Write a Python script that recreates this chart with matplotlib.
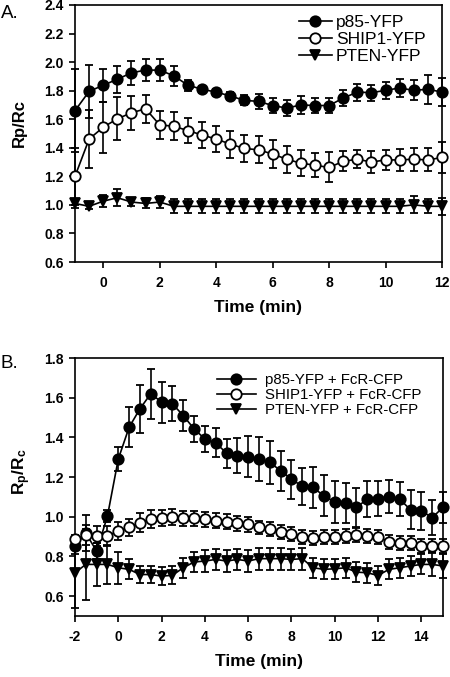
import matplotlib
matplotlib.use('Agg')
import matplotlib.pyplot as plt
from matplotlib.ticker import FormatStrFormatter

plt.rcParams['font.family'] = ['Liberation Sans', 'DejaVu Sans']
plt.rcParams['mathtext.fontset'] = 'custom'
plt.rcParams['mathtext.bf'] = 'Liberation Sans:bold'
plt.rcParams['mathtext.rm'] = 'Liberation Sans'
plt.rcParams['axes.unicode_minus'] = False

# ---------------- Panel A data ----------------
time_a = [-1, -0.5, 0, 0.5, 1, 1.5, 2, 2.5, 3, 3.5, 4, 4.5, 5, 5.5, 6, 6.5, 7,
          7.5, 8, 8.5, 9, 9.5, 10, 10.5, 11, 11.5, 12]
p85_a = [1.66, 1.795, 1.838, 1.88, 1.925, 1.944, 1.944, 1.904, 1.838, 1.81,
         1.79, 1.763, 1.732, 1.725, 1.696, 1.678, 1.70, 1.696, 1.696, 1.748,
         1.79, 1.786, 1.802, 1.819, 1.802, 1.81, 1.79]
p85_a_err = [0.29, 0.185, 0.115, 0.095, 0.083, 0.075, 0.075, 0.07, 0.04, 0.025,
             0.025, 0.03, 0.035, 0.05, 0.05, 0.055, 0.06, 0.05, 0.05, 0.055,
             0.06, 0.055, 0.06, 0.06, 0.07, 0.1, 0.1]
ship1_a = [1.20, 1.461, 1.544, 1.603, 1.645, 1.673, 1.56, 1.551, 1.52, 1.49,
           1.461, 1.426, 1.395, 1.386, 1.356, 1.32, 1.292, 1.278, 1.262, 1.305,
           1.32, 1.30, 1.315, 1.315, 1.32, 1.315, 1.332]
ship1_a_err = [0.2, 0.205, 0.18, 0.15, 0.12, 0.097, 0.1, 0.1, 0.09, 0.09,
               0.09, 0.095, 0.095, 0.095, 0.095, 0.095, 0.09, 0.085, 0.105, 0.07,
               0.065, 0.075, 0.07, 0.075, 0.08, 0.08, 0.11]
pten_a = [1.01, 0.99, 1.026, 1.05, 1.02, 1.01, 1.02, 0.99, 0.99, 0.99,
          0.99, 0.99, 0.99, 0.99, 0.99, 0.99, 0.99, 0.99, 0.99, 0.99,
          0.99, 0.99, 0.99, 0.99, 1.0, 0.99, 0.99]
pten_a_err = [0.03, 0.02, 0.04, 0.06, 0.03, 0.035, 0.04, 0.05, 0.05, 0.05,
              0.05, 0.05, 0.05, 0.05, 0.05, 0.05, 0.05, 0.05, 0.05, 0.05,
              0.05, 0.05, 0.05, 0.05, 0.06, 0.05, 0.06]
labels_a = ['p85-YFP', 'SHIP1-YFP', 'PTEN-YFP']

# ---------------- Panel B data ----------------
time_b = [-2, -1.5, -1, -0.5, 0, 0.5, 1, 1.5, 2, 2.5, 3, 3.5, 4, 4.5, 5, 5.5,
          6, 6.5, 7, 7.5, 8, 8.5, 9, 9.5, 10, 10.5, 11, 11.5, 12, 12.5, 13,
          13.5, 14, 14.5, 15]
p85_b = [0.853, 0.917, 0.827, 1.004, 1.291, 1.451, 1.544, 1.62, 1.578, 1.569,
         1.51, 1.443, 1.392, 1.372, 1.321, 1.308, 1.302, 1.291, 1.274, 1.232,
         1.19, 1.153, 1.148, 1.105, 1.075, 1.068, 1.047, 1.089, 1.092, 1.102,
         1.089, 1.035, 1.03, 0.996, 1.047]
p85_b_err = [0.04, 0.09, 0.04, 0.03, 0.06, 0.1, 0.12, 0.125, 0.103, 0.088,
             0.076, 0.067, 0.067, 0.073, 0.073, 0.088, 0.104, 0.113, 0.11, 0.1,
             0.098, 0.095, 0.105, 0.103, 0.104, 0.1, 0.1, 0.09, 0.09, 0.085,
             0.085, 0.098, 0.095, 0.09, 0.08]
ship1_b = [0.886, 0.907, 0.903, 0.903, 0.929, 0.946, 0.971, 0.988, 0.996, 1.0,
           0.992, 0.992, 0.988, 0.979, 0.974, 0.967, 0.962, 0.946, 0.937, 0.923,
           0.912, 0.9, 0.895, 0.9, 0.9, 0.903, 0.906, 0.903, 0.9, 0.873,
           0.866, 0.866, 0.853, 0.853, 0.853]
ship1_b_err = [0.02, 0.05, 0.05, 0.05, 0.045, 0.045, 0.047, 0.045, 0.04, 0.04,
               0.038, 0.038, 0.038, 0.038, 0.038, 0.038, 0.038, 0.035, 0.035, 0.035,
               0.035, 0.035, 0.035, 0.035, 0.035, 0.035, 0.035, 0.035, 0.035, 0.035,
               0.035, 0.035, 0.035, 0.035, 0.035]
pten_b = [0.718, 0.76, 0.76, 0.76, 0.743, 0.735, 0.709, 0.709, 0.701, 0.705,
          0.743, 0.772, 0.777, 0.785, 0.777, 0.785, 0.777, 0.789, 0.789, 0.789,
          0.785, 0.789, 0.743, 0.735, 0.738, 0.743, 0.721, 0.718, 0.704, 0.735,
          0.743, 0.752, 0.76, 0.76, 0.752]
pten_b_err = [0.18, 0.18, 0.11, 0.1, 0.08, 0.05, 0.045, 0.045, 0.045, 0.045,
              0.05, 0.05, 0.055, 0.055, 0.055, 0.055, 0.055, 0.055, 0.055, 0.055,
              0.055, 0.055, 0.05, 0.05, 0.05, 0.05, 0.05, 0.05, 0.05, 0.05,
              0.05, 0.05, 0.05, 0.06, 0.06]
labels_b = ['p85-YFP + FcR-CFP', 'SHIP1-YFP + FcR-CFP', 'PTEN-YFP + FcR-CFP']

yticks_a = [0.6, 0.8, 1.0, 1.2, 1.4, 1.6, 1.8, 2.0, 2.2, 2.4]
xticks_a = [0, 2, 4, 6, 8, 10, 12]
yticks_b = [0.6, 0.8, 1.0, 1.2, 1.4, 1.6, 1.8]
xticks_b = [-2, 0, 2, 4, 6, 8, 10, 12, 14]

W, H = 450, 677
fig = plt.figure(figsize=(W / 100, H / 100), dpi=100)
axA = fig.add_axes([75 / W, 1 - 262 / H, 367 / W, 257 / H])
axB = fig.add_axes([75 / W, 1 - 616 / H, 368 / W, 258 / H])

styles = [dict(marker='o', mfc='black', ms=7.5),
          dict(marker='o', mfc='white', ms=7.5),
          dict(marker='v', mfc='black', ms=7)]


def draw(ax, t, series, errs):
    handles = []
    for (y, e, st) in zip(series, errs, styles):
        c = ax.errorbar(t, y, yerr=e, color='black', lw=1.2, ls='-',
                        marker=st['marker'], mfc=st['mfc'], mec='black',
                        mew=1.3, ms=st['ms'],
                        elinewidth=1.2, capsize=3.2, capthick=1.2,
                        clip_on=False, zorder=3)
        for part in c.lines[1] + tuple(c.lines[2]):
            part.set_clip_on(False)
        handles.append(c.lines[0])
    return handles


hA = draw(axA, time_a, [p85_a, ship1_a, pten_a], [p85_a_err, ship1_a_err, pten_a_err])
hB = draw(axB, time_b, [p85_b, ship1_b, pten_b], [p85_b_err, ship1_b_err, pten_b_err])

for ax, xt, yt, xl, yl in [(axA, xticks_a, yticks_a, (-1, 12), (0.6, 2.4)),
                           (axB, xticks_b, yticks_b, (-2, 15), (0.5, 1.8))]:
    ax.set_xlim(*xl)
    ax.set_ylim(*yl)
    ax.set_xticks(xt)
    ax.set_yticks(yt)
    ax.yaxis.set_major_formatter(FormatStrFormatter('%.1f'))
    for s in ax.spines.values():
        s.set_linewidth(1.2)
    ax.tick_params(direction='out', length=4, width=1.2, labelsize=10)
    ax.tick_params(axis='x', pad=6)
    ax.tick_params(axis='y', pad=4)
    for lab in ax.get_xticklabels() + ax.get_yticklabels():
        lab.set_fontweight('bold')
    ax.set_xlabel('Time (min)', fontsize=12.5, fontweight='bold', labelpad=7)

axA.set_ylabel('Rp/Rc', fontsize=12, fontweight='bold')
axA.yaxis.set_label_coords(-0.13, 0.54)
axB.set_ylabel(r'$\mathbf{R_p/R_c}$', fontsize=12.5)
axB.yaxis.set_label_coords(-0.115, 0.56)

axA.legend(hA, labels_a, loc='upper right', bbox_to_anchor=(0.955, 0.962),
           frameon=False, fontsize=12.5, borderaxespad=0, borderpad=0,
           handlelength=1.85, handletextpad=0.25, labelspacing=0.12)
axB.legend(hB, labels_b, loc='upper right', bbox_to_anchor=(0.94, 0.94),
           frameon=False, fontsize=10.8, borderaxespad=0, borderpad=0,
           handlelength=2.6, handletextpad=0.6, labelspacing=0.05)

fig.text(1 / W, 1 - 18 / H, 'A.', fontsize=13.5, va='baseline', ha='left')
fig.text(1 / W, 1 - 368 / H, 'B.', fontsize=13.5, va='baseline', ha='left')

fig.savefig('out.png', dpi=100)
